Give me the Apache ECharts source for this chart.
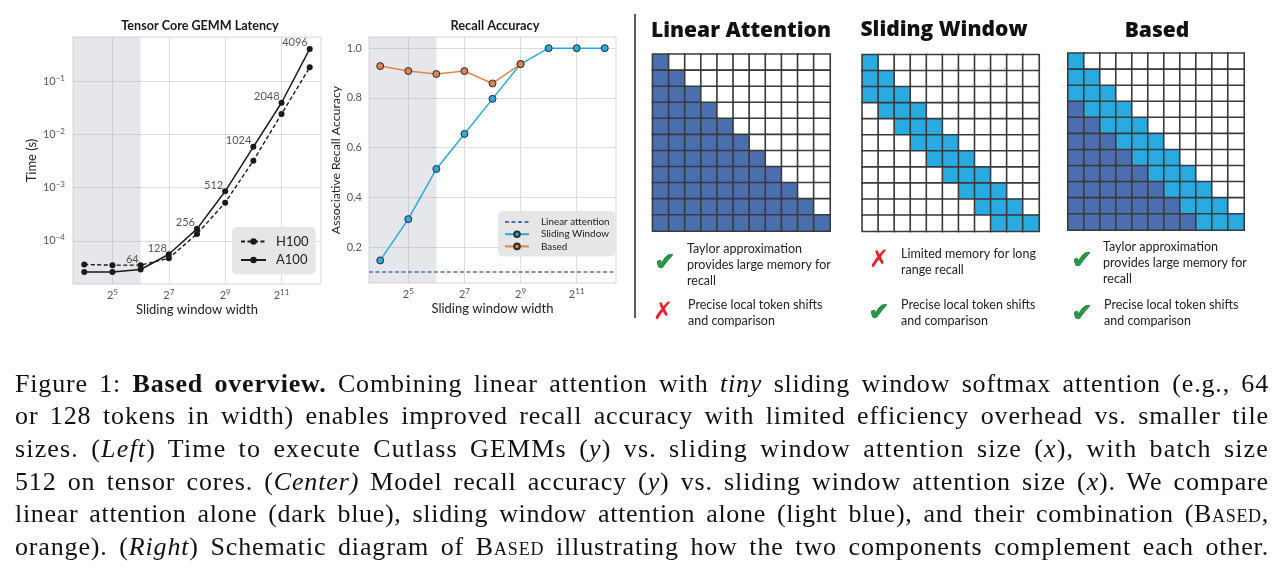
<!DOCTYPE html>
<html><head><meta charset="utf-8">
<script src="https://cdn.jsdelivr.net/npm/echarts@6/dist/echarts.min.js"></script>
<style>
html,body{margin:0;padding:0;background:#fff;}
#wrap{position:relative;width:1288px;height:578px;overflow:hidden;background:#fff;}
#chart{position:absolute;left:0;top:0;width:1288px;height:578px;}
#caption{position:absolute;left:15px;top:367.5px;width:1254px;font-family:'Liberation Serif',serif;font-size:26px;color:#111;z-index:2;word-spacing:1px;}
#caption div{height:32.7px;line-height:32.7px;text-align:justify;text-align-last:justify;white-space:nowrap;}
.sc{font-variant:small-caps;}
</style>
</head><body>
<div id="wrap">
<div id="chart"></div>
<div id="caption">
<div><span>Figure 1: <b>Based overview.</b> Combining linear attention with <i>tiny</i> sliding window softmax attention (e.g., 64</span></div>
<div><span>or 128 tokens in width) enables improved recall accuracy with limited efficiency overhead vs. smaller tile</span></div>
<div><span>sizes. (<i>Left</i>) Time to execute Cutlass GEMMs (<i>y</i>) vs. sliding window attention size (<i>x</i>), with batch size</span></div>
<div><span>512 on tensor cores. (<i>Center)</i> Model recall accuracy (<i>y</i>) vs. sliding window attention size (<i>x</i>). We compare</span></div>
<div><span>linear attention alone (dark blue), sliding window attention alone (light blue), and their combination (<span class="sc">Based</span>,</span></div>
<div><span>orange). (<i>Right</i>) Schematic diagram of <span class="sc">Based</span> illustrating how the two components complement each other.</span></div>
</div>
</div>
<script>
// ---------------- data ----------------
const windowSizes = [16, 32, 64, 128, 256, 512, 1024, 2048, 4096];
const h100Latency = [3.6e-5, 3.5e-5, 3.5e-5, 4.7e-5, 1.35e-4, 5.2e-4, 3.2e-3, 0.024, 0.18];
const a100Latency = [2.6e-5, 2.6e-5, 2.9e-5, 5.6e-5, 1.68e-4, 8.5e-4, 5.8e-3, 0.039, 0.40];
const latencyLabelMinWindow = 64;
const slidingWindowAcc = [0.146, 0.312, 0.514, 0.655, 0.796, 0.936, 1.0, 1.0, 1.0];
const basedAcc = [0.928, 0.908, 0.896, 0.908, 0.858, 0.936];
const linearAttnAcc = 0.1;
const shadedMaxWindow = 64;
const xTickValues = [32, 128, 512, 2048];
const xTickLabels = ['2^5', '2^7', '2^9', '2^11'];
const latencyTickValues = [1e-4, 1e-3, 1e-2, 1e-1];
const latencyTickLabels = ['10^−4', '10^−3', '10^−2', '10^−1'];
const accTickValues = [0.2, 0.4, 0.6, 0.8, 1.0];
const accTickLabels = ['0.2', '0.4', '0.6', '0.8', '1.0'];
// attention masks: 0 = not attended, 1 = linear attention, 2 = sliding window
const linearMask = [
  '10000000000','11000000000','11100000000','11110000000','11111000000','11111100000',
  '11111110000','11111111000','11111111100','11111111110','11111111111'];
const slidingMask = [
  '20000000000','22000000000','22200000000','02220000000','00222000000','00022200000',
  '00002220000','00000222000','00000022200','00000002220','00000000222'];
const basedMask = [
  '20000000000','22000000000','22200000000','12220000000','11222000000','11122200000',
  '11112220000','11111222000','11111122200','11111112220','11111111222'];
const panelTitles = ['Linear Attention', 'Sliding Window', 'Based'];
const bullets = [
  [{ok: true, text: 'Taylor approximation\nprovides large memory for\nrecall'}, {ok: false, text: 'Precise local token shifts\nand comparison'}],
  [{ok: false, text: 'Limited memory for long\nrange recall'}, {ok: true, text: 'Precise local token shifts\nand comparison'}],
  [{ok: true, text: 'Taylor approximation\nprovides large memory for\nrecall'}, {ok: true, text: 'Precise local token shifts\nand comparison'}]
];

// caption: spread part of each line's slack into letter spacing (CM is wider than Times)
document.querySelectorAll('#caption > div').forEach(div => {
  const sp = div.firstElementChild;
  div.style.textAlign = 'left';
  div.style.textAlignLast = 'left';
  const w = sp.getBoundingClientRect().width;
  const n = sp.textContent.length;
  div.style.textAlign = '';
  div.style.textAlignLast = '';
  const slack = 1254 - w - 6;
  if (slack > 0) div.style.letterSpacing = (0.7 * slack / n).toFixed(2) + 'px';
});

// ---------------- helpers ----------------
const X_MIN = Math.pow(2, 3.6), X_MAX = Math.pow(2, 12.4);
function pickLabel(values, labels, v) {
  let best = 0, bd = Infinity;
  values.forEach((t, i) => { const d = Math.abs(Math.log(v) - Math.log(t)); if (d < bd) { bd = d; best = i; } });
  const parts = labels[best].split('^');
  return '{b|' + parts[0] + '}{s|' + parts[1] + '}';
}
const tickFont = {fontFamily: 'Lato', fontSize: 11, color: '#555'};
const powRich = {
  b: {fontFamily: 'Lato', fontSize: 11, color: '#555', lineHeight: 14},
  s: {fontFamily: 'Lato', fontSize: 8, color: '#555', lineHeight: 8, verticalAlign: 'top'}
};
const nameFont = {fontFamily: 'Lato', fontSize: 13, color: '#222'};
const splitStyle = {show: true, lineStyle: {color: '#dcdcdc', width: 1}};

function maskData(mask) {
  const out = [];
  mask.forEach((row, r) => { for (let c = 0; c < row.length; c++) out.push([c, r, +row[c]]); });
  return out;
}
const nCells = linearMask.length;
const cellCats = Array.from({length: nCells}, (_, i) => String(i));

// latency labels go on whichever GPU is higher at that window
function latencyData(vals, other) {
  return windowSizes.map((w, i) => ({
    value: [w, vals[i]],
    label: {show: w >= latencyLabelMinWindow && vals[i] >= other[i], formatter: String(w)}
  }));
}
const latLabel = {position: 'left', distance: -1, offset: [0, -6], fontFamily: 'Lato', fontSize: 11, color: '#555'};

const chart = echarts.init(document.getElementById('chart'), null, {renderer: 'canvas'});

const grids = [
  {left: 73, top: 37, width: 248, height: 247, show: true, borderColor: '#d6d6d6', borderWidth: 1, outerBoundsMode: 'none'},
  {left: 369, top: 37, width: 247, height: 246, show: true, borderColor: '#d6d6d6', borderWidth: 1, outerBoundsMode: 'none'},
  {left: 652.7, top: 54.3, width: 177.3, height: 176.7, outerBoundsMode: 'none'},
  {left: 862.3, top: 54.7, width: 176.7, height: 176.6, outerBoundsMode: 'none'},
  {left: 1068, top: 53.3, width: 176, height: 176.7, outerBoundsMode: 'none'}
];

function logXAxis(gi) {
  return {
    type: 'log', logBase: 2, gridIndex: gi, min: X_MIN, max: X_MAX,
    axisLine: {show: false}, axisTick: {show: false, customValues: xTickValues},
    splitLine: splitStyle,
    axisLabel: Object.assign({customValues: xTickValues, margin: 4, rich: powRich,
      formatter: v => pickLabel(xTickValues, xTickLabels, v)}, tickFont),
    name: 'Sliding window width', nameLocation: 'middle', nameGap: 19, nameTextStyle: nameFont
  };
}
const xAxes = [logXAxis(0), logXAxis(1)];
const yAxes = [
  {
    type: 'log', logBase: 10, gridIndex: 0, min: Math.pow(10, -4.81), max: Math.pow(10, -0.175),
    axisLine: {show: false}, axisTick: {show: false, customValues: latencyTickValues}, splitLine: splitStyle,
    axisLabel: Object.assign({customValues: latencyTickValues, margin: 8, rich: powRich,
      formatter: v => pickLabel(latencyTickValues, latencyTickLabels, v)}, tickFont),
    name: 'Time (s)', nameLocation: 'middle', nameGap: 35, nameRotate: 90, nameTextStyle: {fontFamily: 'Lato', fontSize: 13, color: '#222'}
  },
  {
    type: 'value', gridIndex: 1, min: 0.055, max: 1.045,
    axisLine: {show: false}, axisTick: {show: false, customValues: accTickValues}, splitLine: splitStyle,
    axisLabel: Object.assign({customValues: accTickValues, margin: 7, formatter: v => accTickLabels[accTickValues.findIndex(t => Math.abs(t - v) < 1e-6)] || ''}, tickFont),
    name: 'Associative Recall Accuracy', nameLocation: 'middle', nameGap: 27, nameRotate: 90, nameTextStyle: {fontFamily: 'Lato', fontSize: 12.3, color: '#222'}
  }
];
[2, 3, 4].forEach(gi => {
  xAxes.push({type: 'category', gridIndex: gi, data: cellCats, show: false});
  yAxes.push({type: 'category', gridIndex: gi, data: cellCats, inverse: true, show: false});
});

const shadeArea = {
  silent: true, itemStyle: {color: 'rgba(165,170,178,0.28)'},
  data: [[{xAxis: X_MIN}, {xAxis: shadedMaxWindow}]]
};

const series = [
  {
    name: 'H100', type: 'line', xAxisIndex: 0, yAxisIndex: 0,
    data: latencyData(h100Latency, a100Latency),
    symbol: 'circle', symbolSize: 6, color: '#1a1a1a',
    lineStyle: {color: '#1a1a1a', width: 1.4, type: [4, 2.5]}, itemStyle: {color: '#1a1a1a'},
    label: latLabel, markArea: shadeArea, z: 3
  },
  {
    name: 'A100', type: 'line', xAxisIndex: 0, yAxisIndex: 0,
    data: latencyData(a100Latency, h100Latency),
    symbol: 'circle', symbolSize: 6, color: '#1a1a1a',
    lineStyle: {color: '#1a1a1a', width: 1.5}, itemStyle: {color: '#1a1a1a'},
    label: latLabel, z: 3
  },
  {
    name: 'Linear attention', type: 'line', xAxisIndex: 1, yAxisIndex: 1, data: [],
    symbol: 'none', color: '#4c72b0',
    lineStyle: {color: '#4c72b0', width: 1.5, type: [4, 2.5]},
    markArea: shadeArea,
    markLine: {silent: true, symbol: 'none', label: {show: false},
      lineStyle: {color: '#4c72b0', width: 1.5, type: [4, 2.5]}, data: [{yAxis: linearAttnAcc}]}
  },
  {
    name: 'Sliding Window', type: 'line', xAxisIndex: 1, yAxisIndex: 1,
    data: windowSizes.map((w, i) => [w, slidingWindowAcc[i]]),
    symbol: 'circle', symbolSize: 7, color: '#29a9e1',
    lineStyle: {color: '#29a9e1', width: 1.5},
    itemStyle: {color: '#29a9e1', borderColor: '#2b2b2b', borderWidth: 1}, z: 3
  },
  {
    name: 'Based', type: 'line', xAxisIndex: 1, yAxisIndex: 1,
    data: basedAcc.map((v, i) => [windowSizes[i], v]),
    symbol: 'circle', symbolSize: 7, color: '#de8350',
    lineStyle: {color: '#de8350', width: 1.5},
    itemStyle: {color: '#de8350', borderColor: '#2b2b2b', borderWidth: 1}, z: 4
  }
];
[linearMask, slidingMask, basedMask].forEach((m, k) => {
  series.push({
    type: 'heatmap', xAxisIndex: 2 + k, yAxisIndex: 2 + k, data: maskData(m),
    itemStyle: {borderColor: '#3a3a3a', borderWidth: 1.6},
    emphasis: {disabled: true}, silent: true
  });
});

// ---------------- graphics (titles, divider, schematic text) ----------------
function text(x, y, str, font, opts) {
  return {type: 'text', x: x, y: y, silent: true,
    style: Object.assign({text: str, x: 0, y: 0, font: font, fill: '#222',
      align: 'center', verticalAlign: 'middle', textAlign: 'center', textVerticalAlign: 'middle'}, opts || {})};
}
const graphics = [
  text(200, 26, 'Tensor Core GEMM Latency', 'bold 12.6px Lato', {fill: '#1a1a1a'}),
  text(495, 26, 'Recall Accuracy', 'bold 12.8px Lato', {fill: '#1a1a1a'}),
  {type: 'line', silent: true, shape: {x1: 635, y1: 14, x2: 635, y2: 318}, style: {stroke: '#222', lineWidth: 1.5}}
];
const titlePos = [[741, 31.5], [944, 30.5], [1157, 31.5]];
panelTitles.forEach((t, k) => graphics.push(text(titlePos[k][0], titlePos[k][1], t, '800 21px "Open Sans"', {fill: '#111'})));
const bulletLayout = [
  [{ix: 665, iy: 263, tx: 687, ty: 265}, {ix: 663, iy: 313, tx: 688, ty: 313}],
  [{ix: 879, iy: 261, tx: 901, ty: 262}, {ix: 879, iy: 313, tx: 901, ty: 313}],
  [{ix: 1082, iy: 261, tx: 1103, ty: 263}, {ix: 1082, iy: 314, tx: 1104, ty: 313}]
];
bullets.forEach((panel, k) => panel.forEach((b, j) => {
  const L = bulletLayout[k][j];
  if (b.ok) {
    graphics.push(text(L.ix, L.iy, '✔', '25px "DejaVu Sans"', {fill: '#1f9b45', stroke: '#0c3d1c', lineWidth: 0.7}));
  } else {
    graphics.push(text(L.ix, L.iy, '✗', 'bold 24px "DejaVu Sans"', {fill: '#ea2128'}));
  }
  graphics.push(text(L.tx, L.ty, b.text, '12.5px Lato', {align: 'left', textAlign: 'left', lineHeight: 16, fill: '#222'}));
}));

chart.setOption({
  backgroundColor: '#fff',
  animation: false,
  grid: grids,
  xAxis: xAxes,
  yAxis: yAxes,
  visualMap: {
    type: 'piecewise', show: false, seriesIndex: [5, 6, 7], dimension: 2,
    pieces: [{value: 0, color: '#ffffff'}, {value: 1, color: '#4a6eae'}, {value: 2, color: '#29abe2'}]
  },
  legend: [
    {
      data: ['H100', 'A100'], orient: 'vertical', left: 232, top: 227,
      backgroundColor: '#e6e6e6', borderRadius: 5, padding: [8, 7, 8, 8],
      itemWidth: 25, itemHeight: 8, itemGap: 5.5,
      textStyle: {fontFamily: 'Lato', fontSize: 13, color: '#222', padding: [0, 0, 0, 5]},
      selectedMode: false
    },
    {
      data: [
        {name: 'Linear attention', itemStyle: {opacity: 0, color: 'transparent', borderWidth: 0}},
        'Sliding Window', 'Based'
      ],
      orient: 'vertical', left: 498, top: 211,
      backgroundColor: '#e6e6e6', borderRadius: 5, padding: [6, 6, 5, 6],
      itemWidth: 24, itemHeight: 7, itemGap: 2.2,
      textStyle: {fontFamily: 'Lato', fontSize: 9.9, color: '#222', padding: [0, 0, 0, 7]},
      selectedMode: false
    }
  ],
  graphic: graphics,
  series: series
});
</script>
</body></html>
